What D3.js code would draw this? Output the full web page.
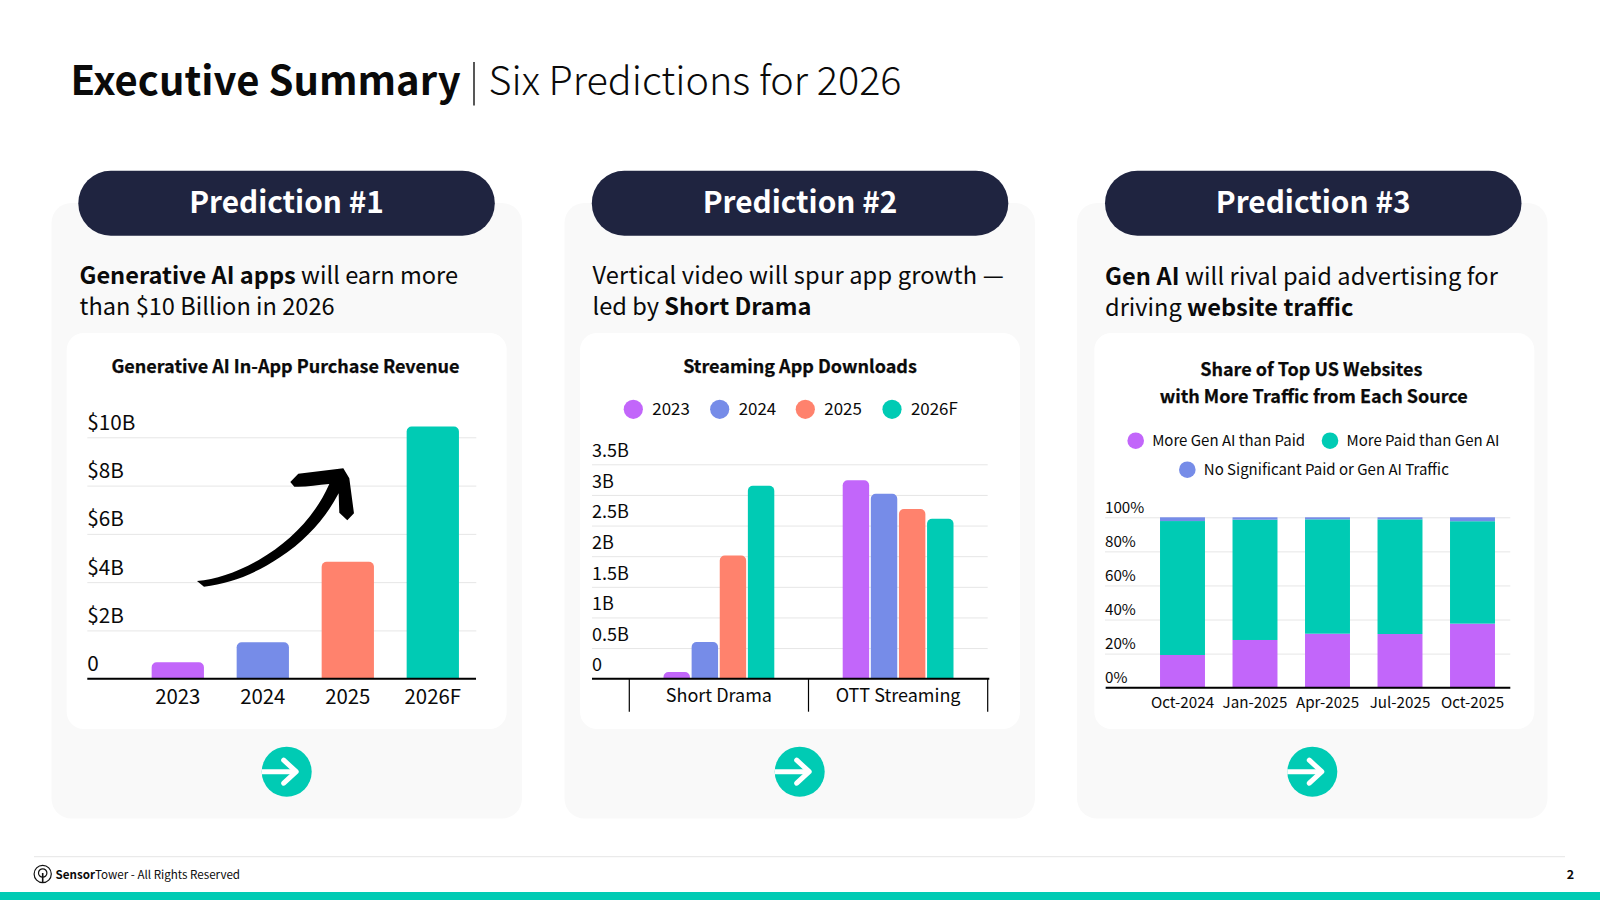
<!DOCTYPE html>
<html lang="en"><head><meta charset="utf-8"><title>Executive Summary</title>
<script src="https://cdn.jsdelivr.net/npm/d3@7/dist/d3.min.js"></script>
<style>html,body{margin:0;padding:0;background:#fff}svg{display:block}text{font-family:"Noto Sans CJK JP","Noto Sans",sans-serif;fill:#0a0a0a}.heavy{stroke:#0a0a0a;stroke-width:.25px}</style>
</head><body><svg id="c" width="1600" height="900"></svg>
<script>
// ---- data ----
const c1Years = ["2023","2024","2025","2026F"];
const c1Revenue = [0.68,1.51,4.84,10.45];
const c1Ticks = [0,2,4,6,8,10];
const c2Groups = ["Short Drama","OTT Streaming"];
const c2Series = ["2023","2024","2025","2026F"];
const c2ShortDrama = [0.11,0.60,2.01,3.15];
const c2Ott = [3.24,3.02,2.77,2.61];
const c2Ticks = [0,0.5,1,1.5,2,2.5,3,3.5];
const c3Months = ["Oct-2024","Jan-2025","Apr-2025","Jul-2025","Oct-2025"];
const c3GenAi = [19.2,28,31.7,31.5,37.6];
const c3Paid = [78.6,70.6,67.1,67.3,60.1];
const c3None = [2.2,1.4,1.2,1.2,2.3];
const c3Ticks = [0,20,40,60,80,100];
const pillLabels = ["Prediction #1","Prediction #2","Prediction #3"];
const chartColors = ["#c266fa","#768ce8","#ff826d","#00cbb4"];

const svg = d3.select("#c");
const PURPLE=chartColors[0],BLUE=chartColors[1],CORAL=chartColors[2],TEAL=chartColors[3],GRID="#e6e6e6",NAVY="#1f2440";

function txt(g,x,y,size,weight,str,anchor){
  return g.append("text").attr("x",x).attr("y",y).attr("font-size",size).attr("font-weight",weight).attr("text-anchor",anchor||"start").text(str);
}
function rich(g,x,y,size,runs){
  const t=g.append("text").attr("x",x).attr("y",y).attr("font-size",size);
  runs.forEach(r=>t.append("tspan").attr("font-weight",r[1]).text(r[0]));
  return t;
}
function topRound(x,y,w,h,r){
  const p=d3.path(); r=Math.min(r,h,w/2);
  p.moveTo(x,y+h);p.lineTo(x,y+r);p.arcTo(x,y,x+r,y,r);p.lineTo(x+w-r,y);p.arcTo(x+w,y,x+w,y+r,r);p.lineTo(x+w,y+h);p.closePath();
  return p.toString();
}
function yAxis(x,w,scale,ticks,fmt,dy,size){
  const a=d3.axisRight(scale).tickValues(ticks).tickSize(w).tickFormat(fmt);
  const g=svg.append("g").attr("transform",`translate(${x},0)`).call(a);
  g.select(".domain").remove();
  g.selectAll(".tick line").attr("stroke",GRID).attr("stroke-width",1);
  g.selectAll(".tick text").attr("x",0).attr("dy",dy).attr("text-anchor","start").attr("font-size",size).attr("font-family",null).style("fill","#0a0a0a");
  g.attr("font-family",null);
  return g;
}
function xLabels(scale,y,size){
  const a=d3.axisBottom(scale).tickSize(0).tickPadding(0);
  const g=svg.append("g").attr("transform",`translate(0,${y})`).call(a);
  g.select(".domain").remove();
  g.attr("font-family",null);
  g.selectAll(".tick text").attr("y",0).attr("dy",0).attr("font-size",size).style("fill","#0a0a0a");
  return g;
}
function baseline(x1,x2,y){svg.append("line").attr("x1",x1).attr("x2",x2).attr("y1",y).attr("y2",y).attr("stroke","#000").attr("stroke-width",2);}

// ---- page frame ----
rich(svg,70.5,94.5,40,[["Executive Summary",700]]);
svg.append("line").attr("x1",474).attr("x2",474).attr("y1",62).attr("y2",105.5).attr("stroke","#111").attr("stroke-width",1.4);
rich(svg,488.5,94.5,39.6,[["Six Predictions for 2026",300]]);

const panelX=[51.5,564.5,1077];
const pillX=[78.3,591.8,1105];
const cardX=[66.7,580,1094.3];
const textX=[79.5,592.5,1105];
const textDy=[0,0,1];
const arrowX=[286.7,799.7,1312.3];
const lineSpacing=[0,0.17,0.1];
const descs=[
 [[["Generative AI apps",600],[" will earn more",400]],[["than $10 Billion in 2026",400]]],
 [[["Vertical video will spur app growth —",400]],[["led by ",400],["Short Drama",600]]],
 [[["Gen AI",600],[" will rival paid advertising for",400]],[["driving ",400],["website traffic",600]]]
];
pillLabels.forEach((lab,i)=>{
  svg.append("rect").attr("x",panelX[i]).attr("y",203).attr("width",470.5).attr("height",615.5).attr("rx",20).attr("fill","#f9f9f9");
  svg.append("rect").attr("x",pillX[i]).attr("y",170.7).attr("width",416.5).attr("height",65).attr("rx",32.5).attr("fill",NAVY);
  txt(svg,pillX[i]+208.2,213.2,29.8,700,lab,"middle").style("fill","#fff");
  rich(svg,textX[i],283.6+textDy[i],23.6,descs[i][0]).attr("letter-spacing",lineSpacing[i]);
  rich(svg,textX[i],315+textDy[i],23.6,descs[i][1]);
  svg.append("rect").attr("x",cardX[i]).attr("y",333).attr("width",440).attr("height",396).attr("rx",17).attr("fill","#fff");
  const a=svg.append("g").attr("transform",`translate(${arrowX[i]},771.7)`);
  a.append("circle").attr("r",25).attr("fill",TEAL);
  a.append("path").attr("d","M-25,0H9").attr("stroke","#fff").attr("stroke-width",5).attr("fill","none");
  a.append("path").attr("d","M-3,-11.5L9.5,0L-3,11.5").attr("stroke","#fff").attr("stroke-width",5).attr("stroke-linecap","round").attr("stroke-linejoin","round").attr("fill","none");
});

// ---- chart 1 ----
txt(svg,285.5,372.5,18,700,"Generative AI In-App Purchase Revenue","middle").classed("heavy",true);
const y1=d3.scaleLinear().domain([0,10]).range([678.7,437.3]);
const x1=d3.scaleBand().domain(c1Years).range([135.3,475.3]).paddingInner(0.385).paddingOuter(0.1925);
yAxis(87.3,389,y1,c1Ticks,d=>d===0?"0":`$${d}B`,"-8px",20.7);
svg.append("g").selectAll("path").data(c1Years).join("path")
  .attr("d",(d,i)=>topRound(x1(d),y1(c1Revenue[i]),x1.bandwidth(),y1(0)-y1(c1Revenue[i]),5))
  .attr("fill",(d,i)=>chartColors[i]);
baseline(87.3,476,y1(0));
xLabels(x1,704,20.4);
svg.append("path").attr("transform","translate(50,330) scale(0.3333)").attr("fill","#000")
  .attr("d","M441,753 C500,748 560,728 630,688 C710,640 790,570 838,462 C800,465 765,472 733,470 L721,456 L745,431 L880,415 L898,445 L912,550 L892,571 L868,548 L866,490 C830,560 770,630 690,682 C610,735 540,760 462,770 Z");

// ---- chart 2 ----
txt(svg,800,372.5,18,700,"Streaming App Downloads","middle").classed("heavy",true);
const legendX2=[633.3,719.7,805.3,892];
c2Series.forEach((s,i)=>{
  svg.append("circle").attr("cx",legendX2[i]).attr("cy",409.3).attr("r",9.6).attr("fill",chartColors[i]);
  txt(svg,legendX2[i]+19,415.3,16.9,400,s);
});
const y2=d3.scaleLinear().domain([0,3.5]).range([678.7,464.3]);
const x20=d3.scaleBand().domain(c2Groups).range([629.3,987.7]);
const x21=d3.scaleBand().domain(c2Series).range([x20.bandwidth()/2-55.4,x20.bandwidth()/2+55.4]).paddingInner(0.06);
yAxis(592,395.7,y2,c2Ticks,d=>d===0?"0":`${d}B`,"-7.8px",18);
[c2ShortDrama,c2Ott].forEach((vals,g)=>{
  svg.append("g").selectAll("path").data(vals).join("path")
    .attr("d",(v,i)=>topRound(x20(c2Groups[g])+x21(c2Series[i]),y2(v),x21.bandwidth(),y2(0)-y2(v),5))
    .attr("fill",(v,i)=>chartColors[i]);
});
baseline(592,989.3,y2(0));
[x20(c2Groups[0]),x20(c2Groups[1]),x20.range()[1]].forEach(x=>{
  svg.append("line").attr("x1",x).attr("x2",x).attr("y1",y2(0)).attr("y2",711.7).attr("stroke","#000").attr("stroke-width",1.2);
});
xLabels(x20,701.7,18);

// ---- chart 3 ----
txt(svg,1311.3,376,18,700,"Share of Top US Websites","middle").classed("heavy",true);
txt(svg,1313.7,402.5,18,700,"with More Traffic from Each Source","middle").classed("heavy",true);
const legend3=[["More Gen AI than Paid",1135.7,440.7,PURPLE],["More Paid than Gen AI",1330,440.7,TEAL],["No Significant Paid or Gen AI Traffic",1187.3,469.7,BLUE]];
legend3.forEach(l=>{
  svg.append("circle").attr("cx",l[1]).attr("cy",l[2]).attr("r",8.3).attr("fill",l[3]);
  txt(svg,l[1]+16.5,l[2]+5.2,15,400,l[0]);
});
const y3=d3.scaleLinear().domain([0,100]).range([687.7,517.3]);
const x3=d3.scaleBand().domain(c3Months).range([1146.25,1508.75]).paddingInner(0.38).paddingOuter(0.19);
yAxis(1105,405.3,y3,c3Ticks,d=>`${d}%`,"-5px",15.2);
const rows3=c3Months.map((m,i)=>({m,gen:c3GenAi[i],paid:c3Paid[i],none:c3None[i]}));
const stack3=d3.stack().keys(["gen","paid","none"])(rows3);
const col3={gen:PURPLE,paid:TEAL,none:BLUE};
stack3.forEach(s=>{
  svg.append("g").attr("fill",col3[s.key]).selectAll("rect").data(s).join("rect")
    .attr("x",d=>x3(d.data.m)).attr("y",d=>y3(d[1])).attr("width",x3.bandwidth()).attr("height",d=>y3(d[0])-y3(d[1]));
});
baseline(1105.7,1510.3,y3(0));
xLabels(x3,708.3,15.2);

// ---- footer ----
svg.append("line").attr("x1",34).attr("x2",1565).attr("y1",856.7).attr("y2",856.7).attr("stroke","#e5e5e5").attr("stroke-width",1);
svg.append("rect").attr("x",0).attr("y",892).attr("width",1600).attr("height",8).attr("fill",TEAL);
const logo=svg.append("g").attr("transform","translate(42.7,874)").attr("fill","none").attr("stroke","#111");
logo.append("circle").attr("r",8.6).attr("stroke-width",1.2);
logo.append("circle").attr("r",4.2).attr("cy",-1).attr("stroke-width",1.2);
logo.append("path").attr("d","M0,-1V8.6").attr("stroke-width",1.6);
rich(svg,55.5,879,11.6,[["Sensor",700],["Tower",400],[" - All Rights Reserved",400]]);
txt(svg,1570.5,879,12.5,700,"2","middle");
</script></body></html>
